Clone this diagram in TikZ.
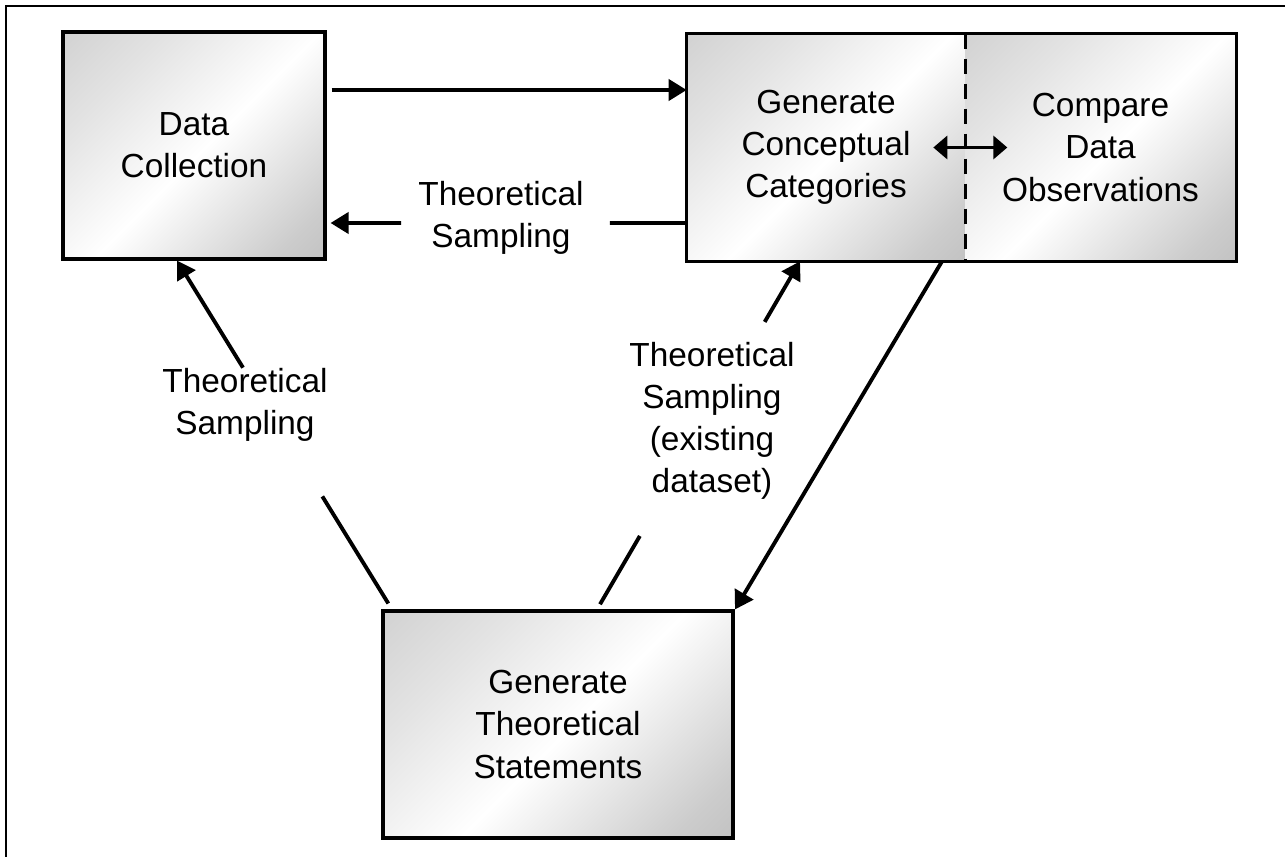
\documentclass[tikz,border=0pt]{standalone}
\usepackage{fontspec}
\setmainfont{Liberation Sans}
\usetikzlibrary{arrows.meta,calc}
\pgfdeclareverticalshading{metal}{100bp}{color(0bp)=(gray!62); color(22bp)=(gray!40); color(48bp)=(white); color(70bp)=(gray!22); color(100bp)=(gray!48)}

\begin{document}
\begin{tikzpicture}[x=0.02cm,y=-0.02cm,
	box/.style={inner sep=0pt,minimum height=4.54cm,align=center,font=\fontsize{19}{24}\selectfont,shading=metal,shading angle=45},
	lbl/.style={inner sep=0pt,align=center,font=\fontsize{19}{24}\selectfont},
	ln/.style={line width=2.2pt},
	arr/.style={line width=2.2pt,-{Triangle[length=0.36cm,width=0.42cm]}}]
	\useasboundingbox (0,0) rectangle (1285,857);
	\draw[line width=1.1pt] (6,857) -- (6,6) -- (1285,6);
	% boxes
	\node[box,draw,line width=1.8pt,minimum width=5.24cm] (coll) at (194,145.5) {Data\\Collection};
	\node[box,minimum width=5.56cm] (gen) at (826,147.5) {Generate\\Conceptual\\Categories};
	\node[box,minimum width=5.42cm] (comp) at (1100.5,147.5) {Compare\\Data\\Observations};
	\draw[line width=1.8pt] (gen.north west) rectangle (comp.south east);
	\draw[line width=1.6pt,dash pattern=on 0.3cm off 0.2cm] (gen.north east) -- (gen.south east);
	\node[box,draw,line width=1.8pt,minimum width=7cm] (stmt) at (558,724.5) {Generate\\Theoretical\\Statements};
	\draw[line width=1.9pt,{Triangle[length=0.28cm,width=0.46cm]}-{Triangle[length=0.28cm,width=0.46cm]}] ($(gen.east)+(-32,0)$) -- ($(gen.east)+(42,0)$);
	% connectors
	\draw[arr,shorten <=0.1cm] (coll.east |- 0,90) -- (gen.west |- 0,90);
	\coordinate (bA) at (gen.west |- 0,223);
	\coordinate (bD) at (coll.east |- 0,223);
	\draw[ln] (bA) -- ($(bA)!0.213!(bD)$);
	\draw[arr,shorten >=0.08cm] ($(bA)!0.793!(bD)$) -- (bD);
	\coordinate (lA) at (stmt.north -| 392,0);
	\coordinate (lD) at (coll.south -| 177,0);
	\draw[ln,shorten <=0.14cm] (lA) -- ($(lA)!0.324!(lD)$);
	\draw[arr] ($(lA)!0.693!(lD)$) -- (lD);
	\coordinate (mA) at (stmt.north -| 597,0);
	\coordinate (mD) at (gen.south -| 800,0);
	\draw[ln,shorten <=0.12cm] (mA) -- ($(mA)!0.211!(mD)$);
	\draw[arr] ($(mA)!0.826!(mD)$) -- (mD);
	\draw[arr] (gen.south -| 942,0) -- (stmt.north -| 735,0);
	% labels
	\node[lbl] (sampB) at (501,218) {Theoretical\\Sampling};
	\node[lbl] (sampL) at (245,405) {Theoretical\\Sampling};
	\node[lbl] (sampM) at (712,421) {Theoretical\\Sampling\\(existing\\dataset)};
\end{tikzpicture}
\end{document}
